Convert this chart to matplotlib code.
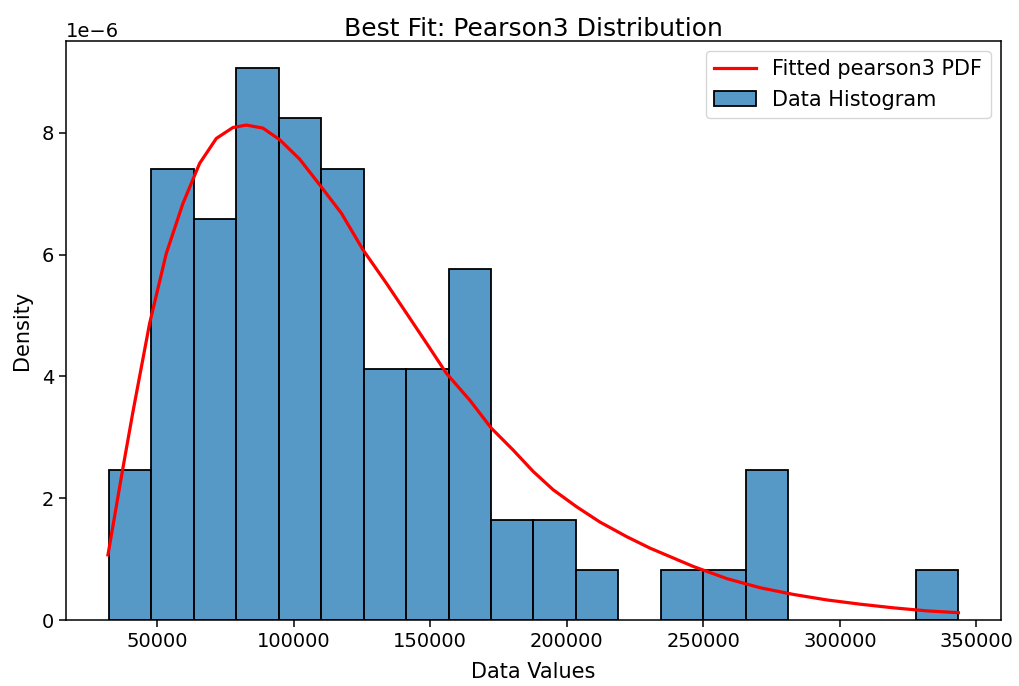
import numpy as np
import matplotlib
matplotlib.use('Agg')
import matplotlib.pyplot as plt

# histogram: 20 equal-width bins between data min and max
data_min = 32210
data_max = 343420
bin_counts = [3, 9, 8, 11, 10, 9, 5, 5, 7, 2, 2, 1, 0, 1, 1, 3, 0, 0, 0, 1]

# fitted pearson3 pdf, sampled along the data range (density in 1e-6)
pdf_x = [32000, 37490, 41150, 47240, 53350, 59430, 65560, 71670, 77760,
         82670, 88750, 94870, 102200, 109500, 117500, 125400, 133970,
         141300, 148600, 155960, 164500, 172400, 180400, 187700, 195000,
         203600, 212100, 221900, 230500, 246300, 258600, 270800, 283000,
         295200, 307400, 319600, 331900, 343400]
pdf_y = [1.07, 2.50, 3.42, 4.87, 6.02, 6.84, 7.50, 7.91, 8.09,
         8.13, 8.08, 7.89, 7.57, 7.15, 6.68, 6.08, 5.53,
         5.04, 4.55, 4.05, 3.61, 3.15, 2.79, 2.44, 2.14,
         1.86, 1.61, 1.37, 1.18, 0.88, 0.68, 0.53, 0.42,
         0.33, 0.26, 0.20, 0.15, 0.12]

edges = np.linspace(data_min, data_max, len(bin_counts) + 1)
counts = np.array(bin_counts, dtype=float)
width = edges[1] - edges[0]
density = counts / (counts.sum() * width)
keep = counts > 0

plt.rcParams['axes.linewidth'] = 1.1
fig = plt.figure(figsize=(10.19, 6.86), dpi=100)
ax = fig.add_axes([0.0648, 0.0962, 0.9175, 0.8445])

ax.bar(edges[:-1][keep], density[keep], width=width, align='edge',
       facecolor=(31/255, 119/255, 180/255, 0.75), edgecolor='black',
       linewidth=1.3, label='Data Histogram')
ax.plot(pdf_x, np.array(pdf_y) * 1e-6, color='red', lw=2.3,
        label='Fitted pearson3 PDF')
ax.set_xlim(data_min - 0.05 * (data_max - data_min),
            data_max + 0.05 * (data_max - data_min))

ax.set_title('Best Fit: Pearson3 Distribution', fontsize=18, pad=2.5)
ax.set_xlabel('Data Values', fontsize=15, labelpad=8)
ax.set_ylabel('Density', fontsize=15, labelpad=7)
ax.tick_params(labelsize=14, length=5, width=1.1)
ax.yaxis.get_offset_text().set_fontsize(14)

ax.legend(fontsize=15)

fig.savefig('out.png', dpi=100)
